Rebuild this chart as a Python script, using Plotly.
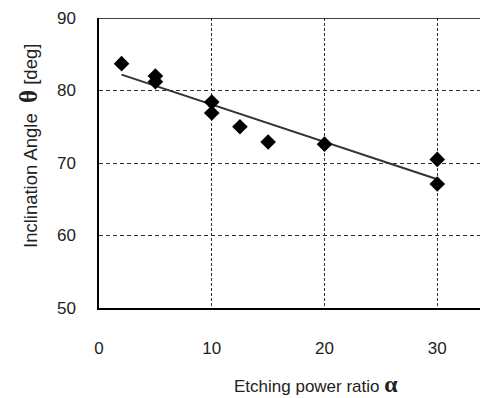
import numpy as np
import plotly.graph_objects as go

# Data
alpha = [2, 5, 5, 10, 10, 12.5, 15, 20, 30, 30]
theta = [83.7, 82.0, 81.2, 78.4, 76.9, 75.0, 72.9, 72.6, 70.5, 67.1]
x_ticks = [0, 10, 20, 30]
y_ticks = [50, 60, 70, 80, 90]

# Linear trend line fitted to the data
slope, intercept = np.polyfit(alpha, theta, 1)
fit_x = [min(alpha), max(alpha)]
fit_y = [slope * v + intercept for v in fit_x]

fig = go.Figure()
fig.add_trace(go.Scatter(x=fit_x, y=fit_y, mode="lines",
                         line=dict(color="#333333", width=2), hoverinfo="skip"))
fig.add_trace(go.Scatter(x=alpha, y=theta, mode="markers",
                         marker=dict(symbol="diamond", size=12, color="black")))

font = "Liberation Sans, Arial, sans-serif"
L, T, W, H = 91, 10, 480, 390
PW, PH = W - L, 300 - T
fig.update_layout(
    width=W, height=H,
    margin=dict(l=L, r=0, t=T, b=H - 300),
    paper_bgcolor="white", plot_bgcolor="white",
    showlegend=False,
    font=dict(family=font, size=17, color="#222222"),
    xaxis=dict(range=[0, 34.5], tickvals=x_ticks, showgrid=True,
               gridcolor="#333333", griddash="3px,2px", gridwidth=1,
               showline=True, linecolor="black", linewidth=1.5,
               zeroline=False, ticks="", ticklabelstandoff=24,
               tickfont=dict(size=17)),
    yaxis=dict(range=[50, 90], tickvals=y_ticks, showgrid=True,
               gridcolor="#333333", griddash="4px,3px", gridwidth=1,
               showline=True, linecolor="black", linewidth=1.5,
               zeroline=False, ticks="", ticklabelstandoff=18,
               tickfont=dict(size=17)),
    shapes=[dict(type="line", xref="paper", yref="y", x0=0, x1=1, y0=90, y1=90,
                 line=dict(color="black", width=1.5))],
    annotations=[
        dict(text='Etching power ratio <span style="font-family:Liberation Serif, Times New Roman, serif;font-size:24px;font-weight:bold">α</span>',
             xref="paper", yref="paper", x=(308 - L) / PW, y=-(376 - 300) / PH,
             xanchor="center", yanchor="middle", showarrow=False,
             font=dict(size=17, family=font, color="#222222")),
        dict(text='Inclination Angle  <span style="font-family:Liberation Serif, Times New Roman, serif;font-size:25px;font-weight:bold">θ</span> [deg]',
             xref="paper", yref="paper", x=-(L - 20) / PW, y=(300 - 138) / PH,
             xanchor="center", yanchor="middle", showarrow=False, textangle=-90,
             font=dict(size=18.5, family=font, color="#222222")),
    ],
)

fig.write_html("out.html")
